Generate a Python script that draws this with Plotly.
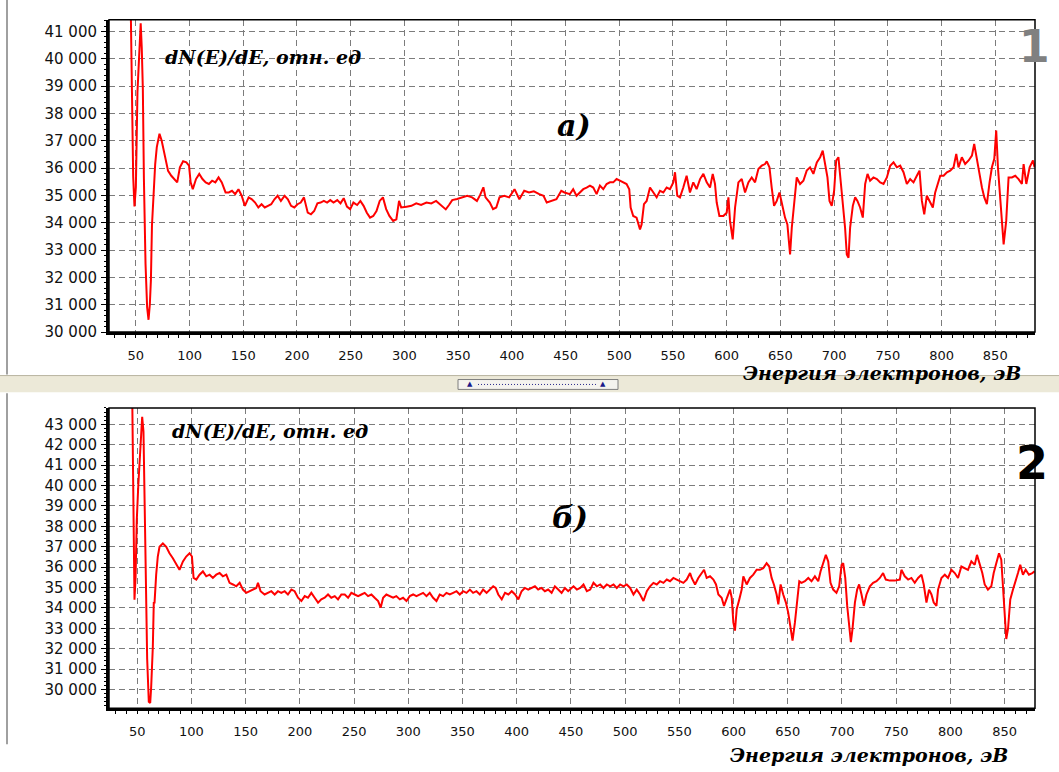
import plotly.graph_objects as go

# ---------------- data: panel a) ----------------
energy_a = [45.3, 46.0, 47.5, 48.7, 50.0, 51.5, 53.5, 54.5, 55.5, 56.5, 57.5, 59.0, 60.5, 61.8, 63.0, 64.0, 65.0, 66.5,
            68.0, 69.5, 72.0, 74.0, 77.0, 80.0, 83.0, 86.5, 88.5, 91.0, 94.0, 97.0, 99.5, 101, 103, 106, 109, 112, 115,
            118, 121, 124, 127, 130, 133.5, 136.5, 139.5, 142.5, 145.5, 148.5, 151.5, 155, 158, 161, 164, 167, 170,
            173, 176, 179, 182, 185, 188.5, 191.5, 194.5, 197.5, 200.5, 203.5, 206.5, 210, 213, 216, 219, 222, 225,
            228, 231, 234, 237.5, 240.5, 243.5, 246.5, 249.5, 252.5, 256, 259, 262, 265, 268, 271, 274, 277, 280,
            283, 286, 289.5, 292.5, 295, 297, 302, 306.5, 311, 315.5, 320.5, 325, 329.5, 334, 338.5, 341.5, 344.5,
            349, 353.5, 358.5, 363, 367.5, 370.5, 373.5, 375.5, 379.5, 382.5, 385.5, 388.5, 393, 397.5, 402.5, 407,
            411.5, 416, 420.5, 425.5, 429.5, 432.5, 437, 441.5, 446, 449,
            454, 457.1, 460.2, 463.4, 466.5, 469.6, 472.7, 475.8, 478.9, 482, 485.1, 488.2, 491.3, 494.4, 497.5,
            500.6, 503.7, 506.8, 509.3, 510.6, 513, 516.1, 519.3, 520.8, 523, 525.5, 528.6, 531.7, 534.8, 537.9,
            541, 544.1, 547.2, 550.3, 551.9, 554, 556.5, 559.6, 562.7, 565.8, 568.9, 572, 575.2, 578.3, 581.4,
            584.5, 587, 589.1, 590.7, 593.2, 596.9, 600, 601.6, 603.1, 605.6, 607.8, 610.9, 614, 617.1, 620.2,
            623.3, 626.4, 629.5, 632.6, 635.7, 637.3, 639.8, 641.9, 644.1, 646.6, 649.1, 651.2, 654.3, 656.5, 659,
            660.6, 662.7, 665.2, 668.3, 671.4, 674.5, 677.6, 680.7, 683.9, 687, 689.4, 691.6, 693.8, 695.7, 697.8,
            700, 701.9, 704, 705.6, 708.1, 710.2, 711.8, 713.4, 714.9, 717.4, 719.6, 721.7, 724.2, 726.7, 728.9,
            731.1, 733.5, 736.6, 739.8, 742.9, 746, 749.1, 752.2, 755.3, 758.4, 761.5, 764.6, 767.7, 770.8, 773.9,
            777, 779.5, 781.7, 783.9, 786.3, 789.4, 791.9, 794.1, 797.2, 798.8, 801.9, 805, 808.1, 811.2, 813.7,
            815.8, 818.9, 822, 825.2, 828.3, 830.4, 832.9, 835.4, 837.6, 839.8, 842.2, 844.7, 846.9, 849.1, 850.9,
            852.5, 854.7, 856.8, 857.8, 860.2, 862.4, 865.5, 868.6, 871.7, 874.8, 876.4, 878.9, 882, 885.1, 886.6]
signal_a = [41700, 40000, 35700, 34600, 35300, 38800, 40500, 41300, 40400, 38900, 35600, 32500, 30900, 30450, 31000,
            31900, 33900, 35200, 36150, 36770, 37260, 37010, 36400, 35900, 35720, 35540, 35480, 36030, 36250, 36210,
            36090, 35480, 35230, 35600, 35790, 35600, 35480, 35420, 35540, 35480, 35660, 35480, 35110, 35110, 35170,
            35050, 35230, 34990, 34620, 34930, 34860, 34740, 34560, 34680, 34560, 34620, 34680, 34860, 34990, 34800,
            34990, 34860, 34620, 34560, 34680, 34740, 34930, 34370, 34310, 34430, 34710, 34740, 34800, 34740, 34830,
            34740, 34830, 34710, 34900, 34590, 34500, 34740, 34650, 34800, 34620, 34370, 34190, 34250, 34430, 34800,
            34930, 34500, 34250, 34070, 34130, 34800, 34560, 34590, 34620, 34710, 34650, 34740, 34710, 34800, 34650,
            34490, 34650, 34830, 34870, 34930, 34990, 34930, 34800, 35020, 35300, 34930, 34740, 34500, 34560, 34930,
            34990, 34930, 35230, 34860, 35170, 35110, 35150, 35050, 34990, 34740, 34800, 34860, 35170, 35110,
            35050, 35230, 34990, 35110, 35230, 35290, 35360, 35290, 35050, 35360, 35230, 35420, 35480, 35480, 35600,
            35540, 35480, 35420, 35230, 34560, 34250, 34190, 33760, 33940, 34680, 34800, 35290, 35110, 34930, 35170,
            35110, 35290, 35230, 35480, 35850, 34990, 34930, 35290, 35720, 35110, 35480, 35230, 35600, 35790, 35480,
            35290, 35790, 35420, 34740, 34250, 34250, 34370, 34930, 34070, 33390, 34560, 35480, 35600, 35110, 35480,
            35660, 35480, 35970, 36090, 36150, 36250, 36030, 35290, 34620, 34800, 35110, 34740, 34190, 33940, 32840,
            33820, 34680, 35660, 35420, 35540, 35910, 36030, 35790, 36210, 36400, 36640, 36150, 35660, 34800, 34620,
            35170, 36280, 36400, 35790, 34800, 33820, 32840, 32720, 33820, 34620, 34930, 34800, 34560, 34190, 35420,
            35790, 35540, 35660, 35600, 35480, 35420, 35660, 36090, 36210, 36030, 36090, 35850, 35420, 35600, 35480,
            35720, 35910, 34800, 34310, 34990, 34740, 34560, 35110, 35480, 35720, 35720, 35850, 35910, 36030, 36520,
            36030, 36400, 36150, 36280, 36460, 36890, 36280, 35660, 35290, 34930, 34680, 35480, 36030, 36340, 37380,
            36030, 34800, 33580, 33210, 34070, 35660, 35660, 35720, 35600, 35420, 36150, 35420, 36030, 36280, 36030]

# ---------------- data: panel б) ----------------
energy_b = [45.4, 46.5, 47.5, 48.5, 49.6, 51.0, 52.1, 53.5, 54.6, 55.8, 56.7, 58.3, 59.2, 60.7, 62.0, 62.9, 64.4, 65.3,
            66.0, 67.5, 69.0, 70.6, 73.7, 76.8, 79.8, 82.9, 86.0, 89.0, 92.2, 95.2, 98.3, 100.5, 102, 104.5, 107.5,
            110.6, 113.7, 116.8, 119.8, 122.9, 126, 129, 132.2, 135.2, 138.3, 141.4, 144.5, 147.5, 150.6, 153.7,
            156.8, 159.8, 161.4, 163.8, 167.5, 170.6, 173.7, 176.8, 179.8, 182.9, 186, 189, 192.2, 195.2, 198.3,
            201.4, 204.5, 207.5, 210.6, 213.7, 216.8, 219.8, 222.9, 226, 229, 232.2, 235.2, 238.3, 241.4, 244.5,
            247.5, 250.6, 253.7, 256.8, 259.8, 262.9, 266, 269, 272.2, 274.6, 276.8, 279.8, 282.9, 286, 289, 292.2,
            295.2, 298.3, 301.4, 304.5, 307.5, 310.6, 313.7, 316.8, 319.8, 322.9, 326, 329, 332.2, 335.2, 338.3,
            341.4, 344.5, 347.5, 350.6, 353.7, 356.8, 359.8, 362.9, 366, 369, 372.2, 375.2, 378.3, 380.6, 383,
            386.2, 389.2, 392.3, 395.4, 398.5, 401.5, 404.5, 407.5, 410.6, 413.7, 416.8, 419.8, 422.9, 426, 429,
            432.2, 435.2, 438.3, 441.4, 444.5, 447.5, 450.6, 452.4, 455.5, 458.6, 461.6, 464.7, 467.8, 470.8,
            473.9, 477, 480, 483.1, 486.2, 489.3, 492.3, 495.4, 498.5, 501.5, 504.6, 507.7, 510.7, 513.8, 516.9,
            520, 523, 526.1, 529.2, 532.2, 535.3, 538.4, 541.4, 544.5, 547.6, 550.7, 553.7, 556.8, 559.9, 561.4,
            564.5, 567.5, 570.6, 572.8, 575.2, 578.3, 581.4, 583.8, 586, 589, 591.2, 593.6, 596.7, 598.3, 599.8,
            601.3, 602.9, 605.3, 607.5, 609, 612.1, 615.1, 618.2, 621.3, 624.3, 627.4, 630.5, 632.9, 635.1, 637.2,
            639.7, 641.3, 643.4, 645.8, 648.3, 650.4, 652.6, 654.4, 656.6, 658.1, 660.6, 662.7, 665.8, 668.9, 671.9,
            675, 678.1, 680.2, 682.7, 685.1, 687.3, 689.4, 691.9, 694.9, 697.4, 699.6, 701.1, 703, 704.8, 706.6,
            708.2, 709.7, 711.9, 714, 715.8, 718, 720.1, 722.6, 725.7, 728.7, 731.8, 734.9, 737.9, 740.4, 744.1,
            748.7, 753.3, 754.8, 757.9, 761, 764, 767.1, 770.2, 773.3, 775.4, 777.9, 780.3, 782.5, 784.6, 787.1,
            788.6, 791.7, 794.8, 797.8, 800.9, 804, 807, 810.1, 813.2, 816.2, 819.3, 822.4, 824.5, 827, 829.4,
            831.6, 834.6, 837.7, 839.9, 842.3, 844.8, 846.9, 848.5, 850, 851.5, 853.1, 855.2, 857.7, 860.1, 862.3,
            864.4, 866.9, 869.4, 872.4, 875.5, 877.6]
signal_b = [44500, 38950, 34400, 35500, 38280, 40000, 41030, 42600, 43370, 42640, 39580, 35210, 31500, 29400, 29350,
            30130, 32070, 34250, 34260, 35630, 36520, 37000, 37160, 37000, 36680, 36440, 36110, 35870, 36280, 36520,
            36680, 36520, 35470, 35390, 35630, 35790, 35550, 35630, 35470, 35630, 35710, 35550, 35630, 35230, 35150,
            35060, 35230, 34900, 34740, 34820, 34900, 34980, 35230, 34820, 34660, 34740, 34820, 34660, 34820, 34740,
            34820, 34660, 34900, 34820, 34500, 34340, 34580, 34500, 34740, 34500, 34260, 34420, 34500, 34660, 34500,
            34580, 34420, 34660, 34660, 34500, 34740, 34660, 34580, 34660, 34740, 34580, 34660, 34500, 34340, 34020,
            34500, 34660, 34580, 34500, 34580, 34420, 34500, 34340, 34580, 34660, 34580, 34660, 34740, 34580, 34740,
            34500, 34340, 34660, 34580, 34740, 34660, 34740, 34820, 34660, 34820, 34740, 34900, 34740, 34820, 34660,
            34900, 34740, 34900, 35060, 34980, 34660, 34420, 34740, 34660, 34820, 34660, 34420, 34820, 34980, 34900,
            34980, 35060, 34900, 34980, 34820, 34900, 34740, 35060, 34900, 34740, 34980, 34820, 34980, 35060, 34900,
            34980, 35150, 34820, 34900, 35230, 35060, 35150, 34980, 35150, 35060, 35150, 34980, 35150, 35060, 35150,
            34980, 34660, 34900, 34660, 34340, 34820, 35060, 35230, 35150, 35310, 35230, 35390, 35310, 35470, 35390,
            35310, 35230, 35390, 35710, 35470, 35150, 35470, 35710, 35870, 35470, 35550, 35390, 35150, 34660, 34500,
            34100, 34500, 34900, 34500, 33290, 32890, 33940, 34420, 34900, 35550, 35150, 35470, 35630, 35870, 35870,
            35950, 36190, 36030, 35470, 35150, 34660, 34180, 35150, 34660, 34260, 33770, 32970, 32400, 33290, 34100,
            35310, 35230, 35310, 35470, 35310, 35550, 35310, 35790, 36190, 36600, 36280, 35230, 34900, 34740, 35060,
            36110, 36190, 35470, 34100, 32970, 32320, 32970, 34260, 34900, 35150, 34660, 34100, 34660, 35060, 35230,
            35310, 35470, 35710, 35390, 35340, 35340, 35390, 35870, 35550, 35390, 35470, 35230, 35470, 35630, 35150,
            34260, 34900, 34660, 34260, 34100, 34900, 35470, 35630, 35470, 35870, 35710, 35470, 36030, 35950, 35870,
            36280, 36110, 36600, 36190, 35710, 35150, 34900, 35060, 35710, 36190, 36680, 36360, 35060, 33610, 32480,
            32970, 34420, 34900, 35390, 35710, 36110, 35630, 35870, 35630, 35710, 35790]

x_ticks = [50, 100, 150, 200, 250, 300, 350, 400, 450, 500, 550, 600, 650, 700, 750, 800, 850]
y_ticks_a = [30000, 31000, 32000, 33000, 34000, 35000, 36000, 37000, 38000, 39000, 40000, 41000]
y_ticks_b = [30000, 31000, 32000, 33000, 34000, 35000, 36000, 37000, 38000, 39000, 40000, 41000, 42000, 43000]
y_label = "dN(E)/dE, отн. ед"
x_label = "Энергия электронов, эВ"

W, H = 1059, 772
def px(x): return x / W
def py(y): return 1 - y / H

fig = go.Figure()
fig.add_trace(go.Scatter(x=energy_a, y=signal_a, mode="lines", line=dict(color="#ff0000", width=2),
                         xaxis="x", yaxis="y", showlegend=False, hoverinfo="skip"))
fig.add_trace(go.Scatter(x=energy_b, y=signal_b, mode="lines", line=dict(color="#ff0000", width=2),
                         xaxis="x2", yaxis="y2", showlegend=False, hoverinfo="skip"))

grid = dict(showgrid=True, gridcolor="#7c7c7c", gridwidth=1.2, griddash="6px,4px")
xtickfont = dict(family="DejaVu Sans", size=13, color="#111111")
ytickfont = dict(family="DejaVu Sans", size=15, color="#111111")
xdom = [px(109), px(1035)]
common_x = dict(domain=xdom, tickmode="array", tickvals=x_ticks, ticks="outside", ticklen=3, tickcolor="black",
                tickfont=xtickfont, showline=True, linewidth=3, linecolor="black", mirror=False, zeroline=False,
                ticklabelstandoff=6,
                minor=dict(dtick=10, tick0=0, ticklen=3, ticks="outside", tickcolor="black", showgrid=False),
                **grid)
common_y = dict(ticks="outside", ticklen=5, tickcolor="black", tickformat=",d", tickfont=ytickfont,
                showline=True, linewidth=3, linecolor="black", mirror=False, zeroline=False, ticklabelstandoff=1,
                minor=dict(dtick=200, ticklen=2, ticks="outside", tickcolor="black", showgrid=False), **grid)

fig.update_layout(
    width=W, height=H, margin=dict(l=0, r=0, t=0, b=0),
    paper_bgcolor="white", plot_bgcolor="white", separators=". ",
    xaxis=dict(range=[25, 887], anchor="y", **common_x),
    yaxis=dict(range=[30000, 41430], domain=[py(336), py(20)], anchor="x", tickvals=y_ticks_a, **common_y),
    xaxis2=dict(range=[24, 878], anchor="y2", **common_x),
    yaxis2=dict(range=[29080, 43804], domain=[py(716.7), py(412.7)], anchor="x2", tickvals=y_ticks_b, **common_y),
)

shapes = []
# thin frame around both plot areas
for xr, yr in (("x domain", "y domain"), ("x2 domain", "y2 domain")):
    shapes.append(dict(type="rect", xref=xr, yref=yr, x0=0, x1=1, y0=0, y1=1, line=dict(color="black", width=1.5),
                       layer="above"))
# window borders and splitter
shapes += [
    dict(type="line", xref="paper", yref="paper", x0=px(7), x1=px(7), y0=py(379), y1=py(0),
         line=dict(color="#a0a0a0", width=2)),
    dict(type="line", xref="paper", yref="paper", x0=px(7), x1=px(7), y0=py(753), y1=py(398),
         line=dict(color="#a0a0a0", width=2)),
    dict(type="rect", xref="paper", yref="paper", x0=0, x1=1, y0=py(397), y1=py(380),
         fillcolor="#ece9d8", line=dict(width=0)),
    dict(type="line", xref="paper", yref="paper", x0=0, x1=1, y0=py(380), y1=py(380),
         line=dict(color="#b8b4a0", width=1)),
    dict(type="rect", xref="paper", yref="paper", x0=px(458), x1=px(618), y0=py(394), y1=py(384),
         fillcolor="#f4f3ee", line=dict(color="#7f7f7f", width=1)),
    dict(type="line", xref="paper", yref="paper", x0=px(478), x1=px(596), y0=py(389), y1=py(389),
         line=dict(color="#2a2a8a", width=1, dash="1px,2px")),
]
fig.update_layout(shapes=shapes)

serif_bi = "DejaVu Serif"
ann = [
    dict(text="<b><i>" + y_label + "</i></b>", x=px(163), y=py(58), xanchor="left", yanchor="middle",
         font=dict(family=serif_bi, size=19, color="black")),
    dict(text="<b><i>" + y_label + "</i></b>", x=px(170), y=py(436), xanchor="left", yanchor="middle",
         font=dict(family=serif_bi, size=19, color="black")),
    dict(text="<b><i>а)</i></b>", x=px(574), y=py(127), xanchor="center", yanchor="middle",
         font=dict(family=serif_bi, size=30, color="black")),
    dict(text="<b><i>б)</i></b>", x=px(570), y=py(524), xanchor="center", yanchor="middle",
         font=dict(family=serif_bi, size=30, color="black")),
    dict(text="<b><i>" + x_label + "</i></b>", x=px(1023), y=py(377), xanchor="right", yanchor="middle",
         font=dict(family=serif_bi, size=19, color="black")),
    dict(text="<b><i>" + x_label + "</i></b>", x=px(1010), y=py(764), xanchor="right", yanchor="middle",
         font=dict(family=serif_bi, size=19, color="black")),
    dict(text="<b>1</b>", x=px(1034), y=py(47), xanchor="center", yanchor="middle",
         font=dict(family="DejaVu Sans", size=44, color="#808080")),
    dict(text="<b>2</b>", x=px(1032), y=py(468), xanchor="center", yanchor="middle",
         font=dict(family="DejaVu Sans", size=46, color="black")),
    dict(text="▲", x=px(470), y=py(389), xanchor="center", yanchor="middle",
         font=dict(family="DejaVu Sans", size=7, color="#1a1a8a")),
    dict(text="▲", x=px(603), y=py(389), xanchor="center", yanchor="middle",
         font=dict(family="DejaVu Sans", size=7, color="#1a1a8a")),
]
for a in ann:
    a.update(xref="paper", yref="paper", showarrow=False)
fig.update_layout(annotations=ann)

fig.write_html("out.html", config={"displayModeBar": False},
               post_script="document.body.style.margin='0';document.body.style.overflow='hidden';")
